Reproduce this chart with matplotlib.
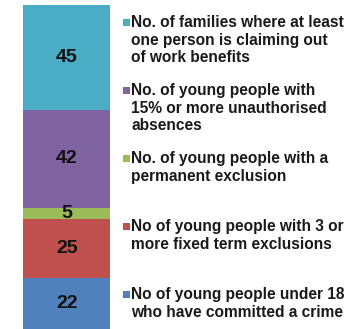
import matplotlib
matplotlib.use("Agg")
import matplotlib.pyplot as plt
from matplotlib.patches import Rectangle

# stacked from the bottom up
values = [22, 25, 5, 42, 45]
colors = ["#4F81BD", "#C0504D", "#9BBB59", "#8064A2", "#4BACC6"]
labels = [
    "No of young people under 18\nwho have committed a crime",
    "No of young people with 3 or\nmore fixed term exclusions",
    "No. of young people with a\npermanent exclusion",
    "No. of young people with\n15% or more unauthorised\nabsences",
    "No. of families where at least\none person is claiming out\nof work benefits",
]

W, H = 362, 329
fig = plt.figure(figsize=(W / 100, H / 100), dpi=100)
fig.patch.set_facecolor("white")

ax = fig.add_axes([23 / W, 0, 87.5 / W, 324 / H])
bottom = 0
for v, c in zip(values, colors):
    ax.bar(0.5, v, width=1, bottom=bottom, color=c, edgecolor="none")
    ax.text(0.5, bottom + v / 2, str(v), ha="center", va="center",
            fontsize=14, fontweight="bold", color="#111111",
            family="Liberation Sans")
    bottom += v
ax.set_xlim(0, 1)
ax.set_ylim(0, sum(values))
ax.axis("off")

# legend, top entry first, evenly spaced
font = dict(fontsize=11.2, fontweight="bold", color="#1a1a1a",
            family="Liberation Sans")
for i, (lab, c) in enumerate(zip(labels[::-1], colors[::-1])):
    yc = 22 + i * 68
    fig.patches.append(Rectangle((123 / W, 1 - (yc + 3.5) / H), 6.5 / W, 6.5 / H,
                                 transform=fig.transFigure, facecolor=c,
                                 edgecolor="none"))
    fig.text(131 / W, 1 - (yc - 7) / H, lab, ha="left", va="top",
             linespacing=1.22, **font)

fig.savefig("out.png", dpi=100)
